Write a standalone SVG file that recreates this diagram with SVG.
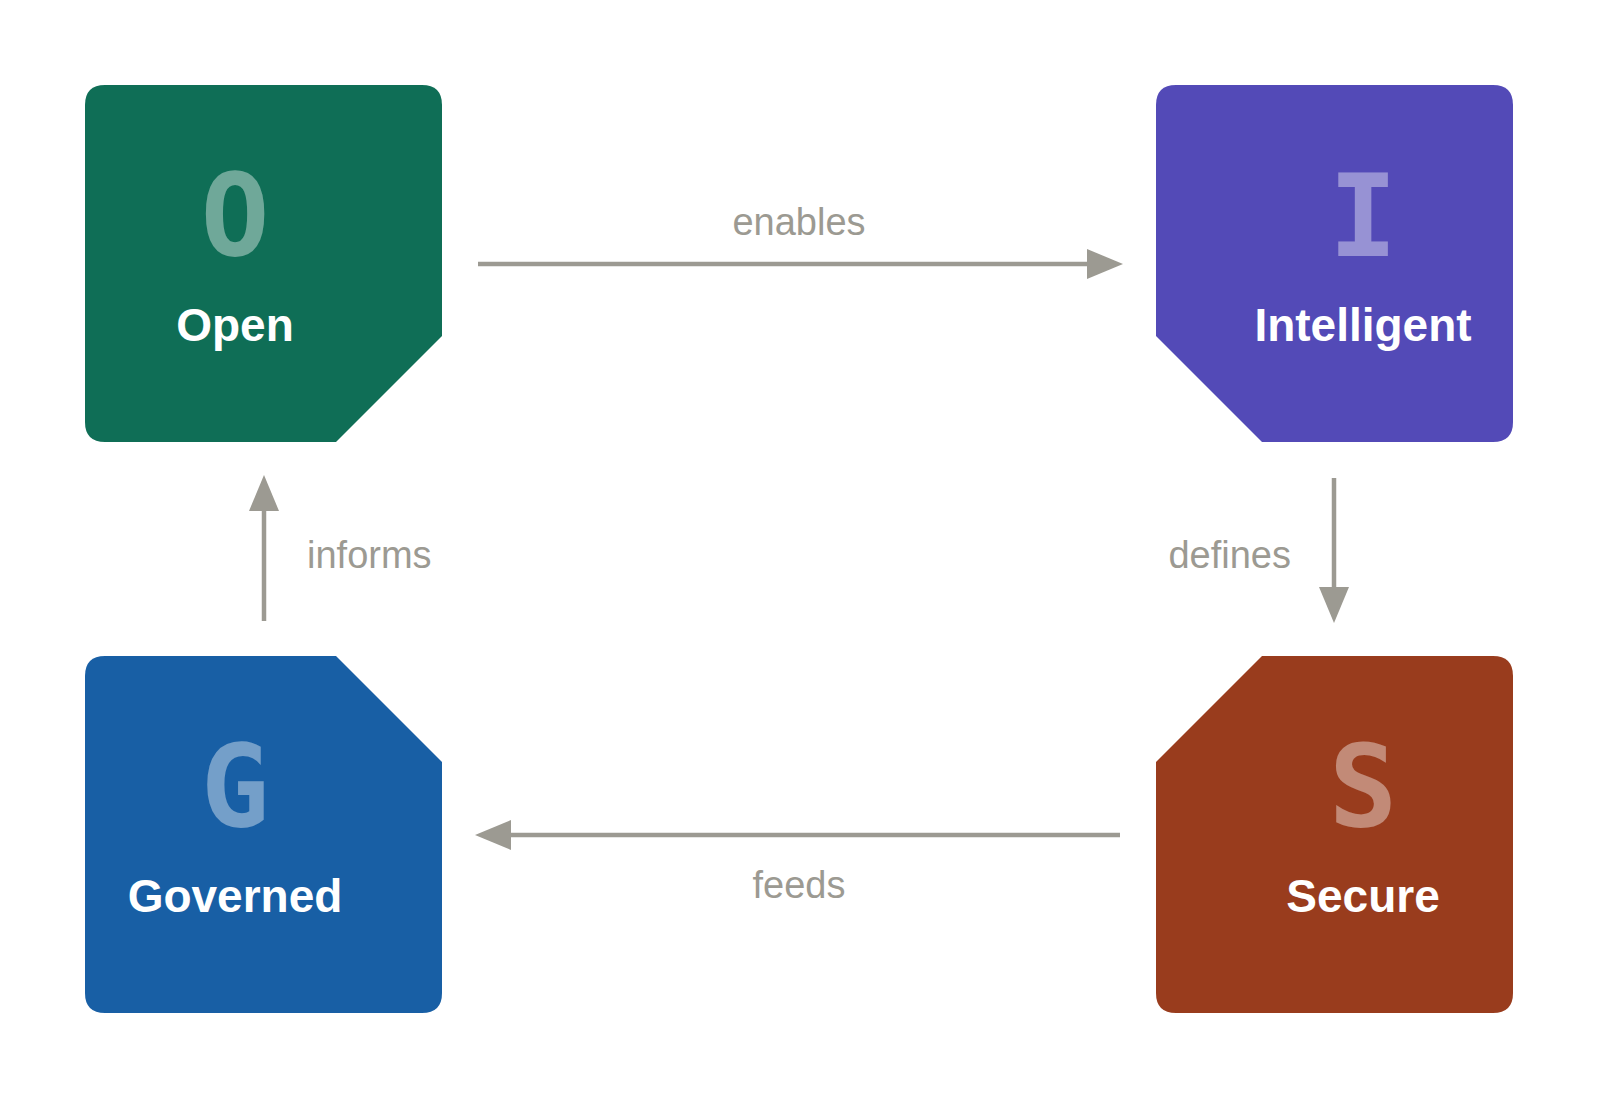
<svg xmlns="http://www.w3.org/2000/svg" width="1600" height="1100" viewBox="0 0 1600 1100">
<style>
.letter{font-family:"DejaVu Sans Mono",monospace;font-weight:bold;font-size:114px;fill:#ffffff;fill-opacity:0.4;text-anchor:middle}
.label{font-family:"Liberation Sans",Arial,sans-serif;font-weight:bold;font-size:46px;fill:#ffffff;text-anchor:middle}
.edge{stroke:#9c9a92;stroke-width:4.5;fill:none}
.elabel{font-family:"Liberation Sans",Arial,sans-serif;font-size:38px;fill:#9c9a92}
</style>
<defs>
<marker id="ah" markerUnits="userSpaceOnUse" markerWidth="36" markerHeight="30" refX="0" refY="15" orient="auto" viewBox="0 0 36 30">
<path d="M0,0 L36,15 L0,30 Z" fill="#9c9a92"/>
</marker>
</defs>
<rect width="1600" height="1100" fill="#ffffff"/>
<g id="node-open">
<path d="M105,85 H422 Q442,85 442,105 V336 L336,442 H105 Q85,442 85,422 V105 Q85,85 105,85 Z" fill="#0F6E56"/>
<text class="letter" x="235" y="255">O</text>
<text class="label" x="235" y="341">Open</text>
</g>
<g id="node-intelligent">
<path d="M1176,85 H1493 Q1513,85 1513,105 V422 Q1513,442 1493,442 H1262 L1156,336 V105 Q1156,85 1176,85 Z" fill="#534AB7"/>
<text class="letter" x="1363" y="256">I</text>
<text class="label" x="1363" y="341">Intelligent</text>
</g>
<g id="node-governed">
<path d="M105,656 H336 L442,762 V993 Q442,1013 422,1013 H105 Q85,1013 85,993 V676 Q85,656 105,656 Z" fill="#185FA5"/>
<text class="letter" x="235" y="826">G</text>
<text class="label" x="235" y="912">Governed</text>
</g>
<g id="node-secure">
<path d="M1262,656 H1493 Q1513,656 1513,676 V993 Q1513,1013 1493,1013 H1176 Q1156,1013 1156,993 V762 Z" fill="#993C1D"/>
<text class="letter" x="1363" y="826">S</text>
<text class="label" x="1363" y="912">Secure</text>
</g>
<g id="connectors">
<line class="edge" x1="478" y1="264" x2="1087" y2="264" marker-end="url(#ah)"/>
<text class="elabel" x="799" y="235" text-anchor="middle">enables</text>
<line class="edge" x1="1334" y1="478" x2="1334" y2="587" marker-end="url(#ah)"/>
<text class="elabel" x="1291" y="568" text-anchor="end">defines</text>
<line class="edge" x1="1120" y1="835" x2="511" y2="835" marker-end="url(#ah)"/>
<text class="elabel" x="799" y="898" text-anchor="middle">feeds</text>
<line class="edge" x1="264" y1="621" x2="264" y2="511" marker-end="url(#ah)"/>
<text class="elabel" x="307" y="568">informs</text>
</g>
</svg>
